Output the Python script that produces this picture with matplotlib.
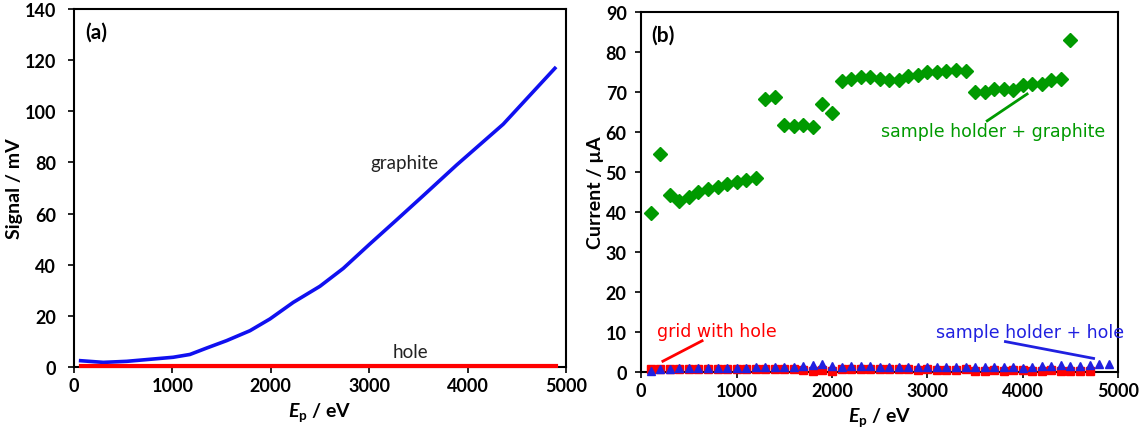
import numpy as np
import matplotlib.pyplot as plt

plt.rcParams['font.family'] = ['Lato', 'DejaVu Sans']
plt.rcParams['mathtext.fontset'] = 'custom'
plt.rcParams['mathtext.it'] = 'Lato:bold:italic'
plt.rcParams['mathtext.rm'] = 'Lato:bold'

# panel (a): signal vs primary energy
ea = [68, 298, 535, 772, 1009, 1179, 1348, 1551, 1789, 1992, 2229, 2500,
      2737, 3008, 3279, 3550, 3889, 4126, 4363, 4600, 4888]
graphite = [2.35, 1.7, 2.1, 2.9, 3.7, 4.8, 7.3, 10.2, 14.1, 18.7, 25.2, 31.5,
            38.5, 48.1, 57.5, 67.0, 79.0, 87.0, 95.0, 104.9, 116.9]
hole_e = [68, 4900]
hole = [0.2, 0.2]

# panel (b): currents
eg = [100, 200, 300, 400, 500, 600, 700, 800, 900, 1000, 1100, 1200,
      1300, 1400, 1500, 1600, 1700, 1800, 1900, 2000,
      2100, 2200, 2300, 2400, 2500, 2600, 2700, 2800, 2900, 3000, 3100, 3200, 3300, 3400,
      3500, 3600, 3700, 3800, 3900, 4000, 4100, 4200, 4300, 4400, 4500]
holder_graphite = [39.7, 54.4, 44.3, 42.7, 43.8, 45.0, 45.75, 46.2, 46.9, 47.4, 48.1, 48.6,
                   68.25, 68.8, 61.7, 61.5, 61.75, 61.25, 67.0, 64.75,
                   72.7, 73.25, 73.8, 73.75, 73.2, 73.1, 73.1, 74.1, 74.3, 75.0, 75.0, 75.3, 75.5, 75.25,
                   70.1, 70.1, 70.8, 70.8, 70.5, 71.75, 71.9, 72.0, 73.1, 73.25, 83.0]

eb = [100, 200, 300, 400, 500, 600, 700, 800, 900, 1000, 1100, 1200, 1300, 1400, 1500,
      1600, 1700, 1800, 1900, 2000, 2100, 2200, 2300, 2400, 2500, 2600, 2700, 2800, 2900,
      3000, 3100, 3200, 3300, 3400, 3500, 3600, 3700, 3800, 3900, 4000, 4100, 4200, 4300,
      4400, 4500, 4600, 4700, 4800, 4900]
holder_hole = [0.3, 0.8, 0.8, 0.9, 1.0, 0.9, 0.9, 0.9, 0.9, 0.9, 1.1, 1.2, 1.3, 1.3, 1.3,
               1.3, 1.6, 1.8, 2.1, 1.5, 1.2, 1.4, 1.4, 1.6, 1.2, 1.3, 1.3, 1.3, 1.3,
               1.3, 1.3, 1.3, 1.3, 1.2, 1.2, 1.2, 1.2, 1.3, 1.2, 1.0, 1.2, 1.5, 1.5,
               1.7, 1.5, 1.5, 1.7, 2.0, 2.1]

er = eb[:47]
grid_hole = [0.8, 0.8, 0.8, 0.8, 0.8, 0.8, 0.8, 0.8, 0.8, 0.8, 0.8, 0.8, 0.8, 0.7, 0.7,
             0.7, 0.6, 0.3, 0.4, 0.2, 0.7, 0.7, 0.7, 0.7, 0.7, 0.7, 0.7, 0.7, 0.4,
             0.7, 0.5, 0.5, 0.5, 0.7, 0.3, 0.3, 0.4, 0.3, 0.4, 0.5, 0.3, 0.3, 0.4,
             0.2, 0.3, 0.3, 0.3]

fig = plt.figure(figsize=(11.43, 4.35), dpi=100)
ax1 = fig.add_axes([0.0647, 0.1547, 0.4304, 0.8216])
ax2 = fig.add_axes([0.561, 0.1425, 0.4173, 0.8276])

# (a)
ax1.plot(hole_e, hole, color='#ff0000', lw=3, zorder=5, clip_on=False)
ax1.plot(ea, graphite, color='#1010f0', lw=2.6, zorder=4)
ax1.set_xlim(0, 5000)
ax1.set_ylim(0, 140)
ax1.set_xticks([0, 1000, 2000, 3000, 4000, 5000])
ax1.set_yticks(range(0, 141, 20))
ax1.set_ylabel('Signal / mV', fontsize=14, fontweight='bold', labelpad=1)
ax1.set_xlabel(r'$E_\mathrm{p}$ / eV', fontsize=14, fontweight='bold')
ax1.text(0.022, 0.965, '(a)', transform=ax1.transAxes, fontsize=15,
         fontweight='bold', va='top')
ax1.text(3364, 79.8, 'graphite', fontsize=13.5, ha='center', va='center', color='#222222')
ax1.text(3415, 5.8, 'hole', fontsize=13.5, ha='center', va='center', color='#222222')

# (b)
ax2.plot(eg, holder_graphite, 'D', color='#009a00', ms=7, zorder=3)
ax2.plot(er, grid_hole, 's', color='#ff0000', ms=5.5, zorder=5, clip_on=False)
ax2.plot(eb, holder_hole, '^', color='#2020e0', ms=5.5, zorder=6, clip_on=False)
ax2.set_xlim(0, 5000)
ax2.set_ylim(0, 90)
ax2.set_xticks([0, 1000, 2000, 3000, 4000, 5000])
ax2.set_yticks(range(0, 91, 10))
ax2.set_ylabel('Current / µA', fontsize=14, fontweight='bold', labelpad=1)
ax2.set_xlabel(r'$E_\mathrm{p}$ / eV', fontsize=14, fontweight='bold')
ax2.text(0.022, 0.965, '(b)', transform=ax2.transAxes, fontsize=15,
         fontweight='bold', va='top')

ann = dict(fontsize=12.5, family='DejaVu Sans', ha='center', va='center')
ax2.text(3690, 60.2, 'sample holder + graphite', color='#009a00', **ann)
ax2.plot([3627, 4045], [62.8, 69.5], color='#009a00', lw=2)
ax2.text(790, 10.3, 'grid with hole', color='#ff0000', **ann)
ax2.plot([227, 638], [2.7, 7.8], color='#ff0000', lw=2)
ax2.text(4080, 10.1, 'sample holder + hole', color='#2020e0', **ann)
ax2.plot([3818, 4742], [7.6, 3.4], color='#2020e0', lw=2)

for ax in (ax1, ax2):
    ax.tick_params(direction='out', length=4, width=1.2, labelsize=13)
    for lbl in ax.get_xticklabels() + ax.get_yticklabels():
        lbl.set_fontweight('bold')
    for s in ax.spines.values():
        s.set_linewidth(1.5)
ax1.tick_params(axis='y', pad=9)
ax2.tick_params(axis='y', pad=6.5)

fig.savefig('out.png', dpi=100)
